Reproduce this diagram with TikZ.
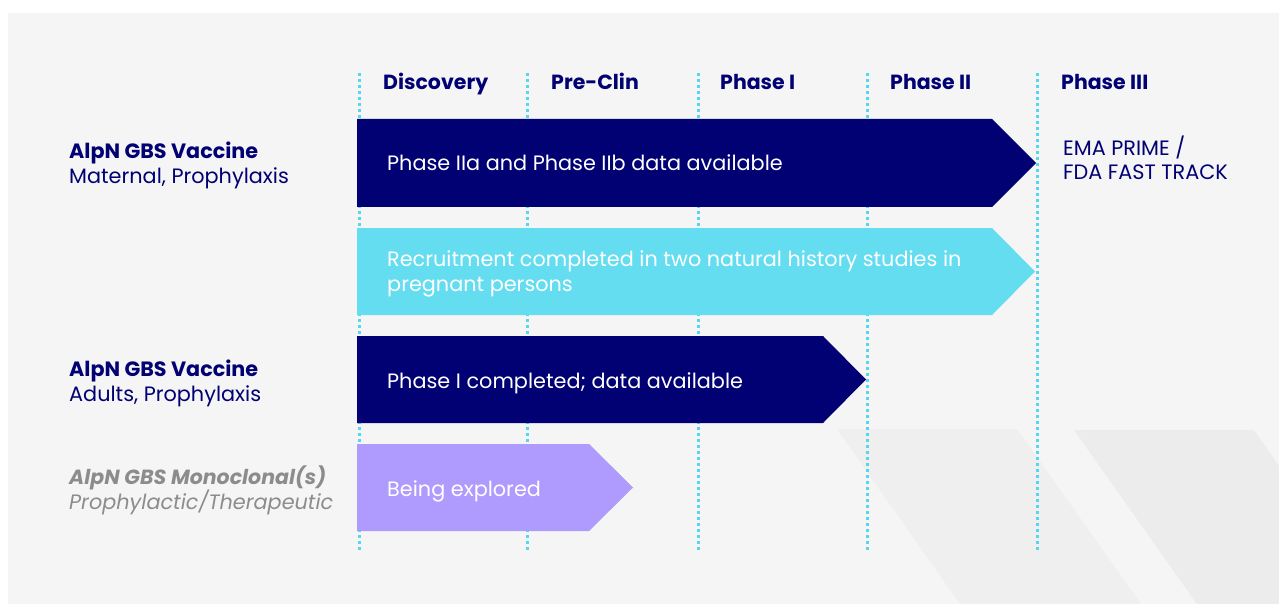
\documentclass[tikz,border=0pt]{standalone}
\usepackage{fontspec}
\setmainfont{Poppins}
\definecolor{navy}{HTML}{010173}
\definecolor{skyblue}{HTML}{63DDEF}
\definecolor{lilac}{HTML}{AE9BFD}
\definecolor{panel}{HTML}{F5F5F5}
\definecolor{shadeA}{HTML}{EFEFEF}
\definecolor{shadeB}{HTML}{ECECEC}
\definecolor{dotblue}{HTML}{55D8EF}
\definecolor{mutedgray}{HTML}{8C8C8C}
\begin{document}
\begin{tikzpicture}[x=1pt,y=-1pt,
  phaseline/.style={draw=dotblue,line width=3pt,dash pattern=on 3pt off 3pt},
  header/.style={anchor=base west,inner sep=0pt,text=navy,font=\fontsize{20.5}{24}\selectfont\bfseries},
  bartext/.style={anchor=base west,inner sep=0pt,text=white,font=\fontsize{20.8}{25}\selectfont},
  title/.style={anchor=base west,inner sep=0pt,text=navy,font=\fontsize{20.7}{24}\selectfont\bfseries},
  sub/.style={anchor=base west,inner sep=0pt,text=navy,font=\fontsize{20.8}{24}\selectfont},
  note/.style={anchor=base west,inner sep=0pt,text=navy,font=\fontsize{20.8}{24}\selectfont}
]
\useasboundingbox (0,0) rectangle (1279,604);
\fill[white] (0,0) rectangle (1279,604);
\fill[panel] (8,13) rectangle (1279,604);
% decorative slanted bands
\fill[shadeA] (837,429) -- (1017,429) -- (1141,604) -- (960,604) -- cycle;
\fill[shadeB] (1074,430) -- (1254,430) -- (1279,466) -- (1279,604) -- (1197,604) -- cycle;

% stage separators
\foreach \x in {359,527,698,867,1037}
  \draw[phaseline] (\x,73) -- (\x,550);

% stage headers
\node[header] (hdisc) at (383,90) {Discovery};
\node[header] (hpre)  at (551,90) {Pre-Clin};
\node[header] (hp1)   at (720,90) {Phase I};
\node[header] (hp2)   at (890,90) {Phase II};
\node[header] (hp3)   at (1061,90) {Phase III};

% progress bars
\fill[navy]    (357,119) -- (992,119) -- (1036,163) -- (992,207) -- (357,207) -- cycle;
\fill[skyblue] (357,228) -- (992,228) -- (1035,271.5) -- (992,315) -- (357,315) -- cycle;
\fill[navy]    (357,336) -- (823,336) -- (866,379.5) -- (823,423) -- (357,423) -- cycle;
\fill[lilac]   (357,444) -- (589,444) -- (633,487.5) -- (589,531) -- (357,531) -- cycle;

\node[bartext] (b1) at (387,171) {Phase IIa and Phase IIb data available};
\node[bartext] (b2a) at (387,266) {Recruitment completed in two natural history studies in};
\node[bartext] (b2b) at (387,291) {pregnant persons};
\node[bartext] (b3) at (387,388) {Phase I completed; data available};
\node[bartext] (b4) at (387,496) {Being explored};

% regulatory note
\node[note] (ema) at (1063,156) {EMA PRIME /};
\node[note] (fda) at (1063,180) {FDA FAST TRACK};

% programme labels
\node[title] (v1) at (69,159) {AlpN GBS Vaccine};
\node[sub]   (v1s) at (69,184) {Maternal, Prophylaxis};
\node[title] (v2) at (69,376) {AlpN GBS Vaccine};
\node[sub]   (v2s) at (69,401) {Adults, Prophylaxis};
\node[title,text=mutedgray,font=\fontsize{20.5}{24}\selectfont\bfseries\itshape] (m1) at (69,484) {AlpN GBS Monoclonal(s)};
\node[sub,text=mutedgray,font=\fontsize{20.8}{24}\selectfont\itshape] (m1s) at (69,509) {Prophylactic/Therapeutic};
\end{tikzpicture}
\end{document}
